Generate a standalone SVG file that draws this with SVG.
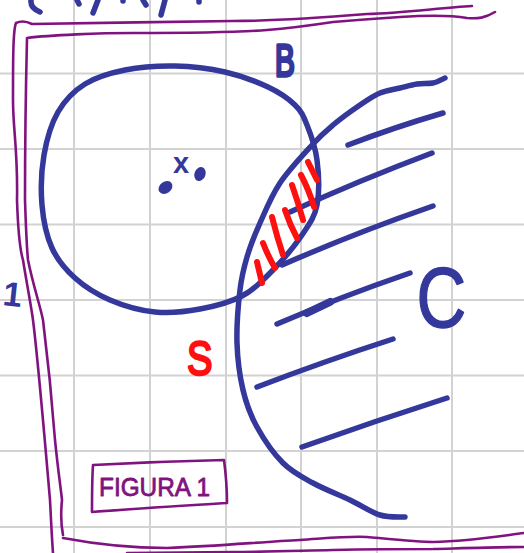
<svg xmlns="http://www.w3.org/2000/svg" width="524" height="553" viewBox="0 0 524 553">
<style>
.grid{stroke:#d2d2d2;stroke-width:2;}
.pur{fill:none;stroke:#80137f;stroke-width:2.6;stroke-linecap:round;stroke-linejoin:round;}
.blu{fill:none;stroke:#34389b;stroke-width:5.5;stroke-linecap:round;stroke-linejoin:round;}
.red{fill:none;stroke:#ff1010;stroke-width:6;stroke-linecap:round;}
.lbl{font-family:"Liberation Sans",Arial,sans-serif;stroke-linejoin:round;stroke-linecap:round;}
</style>
<rect width="524" height="553" fill="#ffffff"/>
<g id="grid" class="grid">
<line x1="74" y1="0" x2="74" y2="553"/>
<line x1="150" y1="0" x2="150" y2="553"/>
<line x1="226" y1="0" x2="226" y2="553"/>
<line x1="301" y1="0" x2="301" y2="553"/>
<line x1="377" y1="0" x2="377" y2="553"/>
<line x1="452" y1="0" x2="452" y2="553"/>
<line x1="0" y1="73.5" x2="524" y2="73.5"/>
<line x1="0" y1="149" x2="524" y2="149"/>
<line x1="0" y1="224.5" x2="524" y2="224.5"/>
<line x1="0" y1="300" x2="524" y2="300"/>
<line x1="0" y1="375.5" x2="524" y2="375.5"/>
<line x1="0" y1="451" x2="524" y2="451"/>
<line x1="0" y1="527" x2="524" y2="527"/>
</g>
<g id="top-marks" class="blu" stroke-width="6">
<path d="M31,0 Q30,8 40,12"/>
<path d="M77,0 L79,4"/>
<path d="M98,0 L93,13"/>
<path d="M123,0 L123,1"/>
<path d="M143,0 L146,5"/>
<path d="M165,0 L161,15"/>
<path d="M199,0 L199,2"/>
</g>
<g id="frame" class="pur">
<path d="M472,6 C440,8 400,13 367,14 C330,17 280,21 233,21 C180,22 80,23 32,24 C28,22 22,20 16,23 C13,30 13,60 13,100 C13,130 18,150 17,200 C18,230 20,250 23,260 C27,285 31,305 33,320 C38,360 44,430 50,500 C51,520 52,540 53,553"/>
<path d="M495,12 C485,18 478,19 467,18 C450,15 430,15 400,17 C370,19 345,21 333,22 C300,27 280,29 267,30 C230,33 180,33 133,33 C100,33 50,35 27,38 C26,80 25,150 25,200 C26,230 27,250 28,260 C33,285 40,305 43,320 C48,360 52,400 55,440 C58,470 61,490 62,500 C61,510 60,520 63,535"/>
<path d="M63,538 C100,545 140,548 167,548 C220,546 260,542 300,540 C330,538 350,536 367,537 C400,540 420,542 433,542 C470,541 500,536 524,533"/>
<path d="M127,553 C160,553 200,552 233,552 C260,552 290,551 333,550 C380,549 410,549 433,549 C470,548 500,547 524,547"/>
</g>
<g id="set-B">
<path class="blu" d="M307,125 C310.7,134.2 315.3,146.7 317,160 C318.7,173.3 319.5,192.5 317,205 C314.5,217.5 309.3,224.2 302,235 C294.7,245.8 283,259.8 273,270 C263,280.2 254.2,289.5 242,296 C229.8,302.5 214.5,306.3 200,309 C185.5,311.7 170,313.5 155,312 C140,310.5 123.3,305.7 110,300 C96.7,294.3 84.7,286.7 75,278 C65.3,269.3 57.5,260.2 52,248 C46.5,235.8 43.3,220.5 42,205 C40.7,189.5 41.3,170.5 44,155 C46.7,139.5 51.2,123.8 58,112 C64.8,100.2 73.8,91 85,84 C96.2,77 110,73 125,70 C140,67 158.3,65.7 175,66 C191.7,66.3 209.5,68.5 225,72 C240.5,75.5 256.3,81.5 268,87 C279.7,92.5 288.5,98.7 295,105 C301.5,111.3 303.3,115.8 307,125"/>
<text class="lbl" x="0" y="0" font-size="45" fill="#34389b" stroke="#34389b" stroke-width="3.5" transform="translate(275,76) scale(0.66,1)">B</text>
</g>
<g id="point-x0">
<ellipse cx="165.5" cy="187.5" rx="7.5" ry="5.8" transform="rotate(-35 165.5 187.5)" fill="#34389b"/>
<text class="lbl" x="181" y="173" font-size="29" font-weight="bold" text-anchor="middle" fill="#34389b">x</text>
<ellipse cx="200" cy="174" rx="5.5" ry="7.2" transform="rotate(20 200 174)" fill="#34389b"/>
</g>
<g id="set-C">
<path class="blu" d="M445,78 C443,78.8 437.7,82 433,83 C428.3,84 422.5,83.2 417,84 C411.5,84.8 406.2,86.5 400,88 C393.8,89.5 386.7,90.2 380,93 C373.3,95.8 367.8,99.7 360,105 C352.2,110.3 340.8,118.5 333,125 C325.2,131.5 321.8,134.3 313,144 C304.2,153.7 288.8,169.8 280,183 C271.2,196.2 265.5,210.7 260,223 C254.5,235.3 250.3,245.8 247,257 C243.7,268.2 241.7,275.7 240,290 C238.3,304.3 236.5,326.3 237,343 C237.5,359.7 239.7,376 243,390 C246.3,404 250.3,414.8 257,427 C263.7,439.2 273.7,453.7 283,463 C292.3,472.3 301.8,476.8 313,483 C324.2,489.2 338.8,494.7 350,500 C361.2,505.3 370.8,512.2 380,515 C389.2,517.8 400.8,516.7 405,517"/>
<g class="blu">
<path d="M348,145 Q395,127 443,113"/>
<path d="M290,212 Q360,180 432,153"/>
<path d="M282,265 Q355,233 433,206"/>
<path d="M277,324 Q340,297 410,273"/>
<path d="M307,313 L330,302" stroke-width="8"/>
<path d="M257,387 Q325,361 393,339"/>
<path d="M302,447 Q375,421 447,398"/>
</g>
<text class="lbl" x="0" y="0" font-size="86" fill="#34389b" stroke="#34389b" stroke-width="1.5" transform="translate(416.5,327) scale(0.8,1)">C</text>
</g>
<g id="intersection-S">
<g class="red">
<path d="M308,162 L317,180"/>
<path d="M301,175 Q309,190 314,207"/>
<path d="M292,185 Q298,202 303,220"/>
<path d="M285,210 Q290,225 297,238"/>
<path d="M272,217 Q277,237 283,255"/>
<path d="M263,243 Q268,256 275,268"/>
<path d="M257,262 L262,283"/>
</g>
<text class="lbl" x="0" y="0" font-size="49" fill="#ff1010" stroke="#ff1010" stroke-width="2.5" transform="translate(187,375) scale(0.78,1)">S</text>
</g>
<g id="mark-1">
<text class="lbl" x="3" y="306" font-size="34" font-weight="bold" fill="#34389b" transform="rotate(6 12 295)">1</text>
</g>
<g id="figure-label">
<path class="pur" stroke-width="3" d="M93,465 C130,463 180,461 224,460 C226,475 227,490 227,503 C180,506 130,509 92,512 C92,497 92,480 93,465 Z"/>
<text class="lbl" x="99" y="496" font-size="26" fill="#80137f" stroke="#80137f" stroke-width="0.8" textLength="111" lengthAdjust="spacingAndGlyphs">FIGURA 1</text>
</g>
</svg>
